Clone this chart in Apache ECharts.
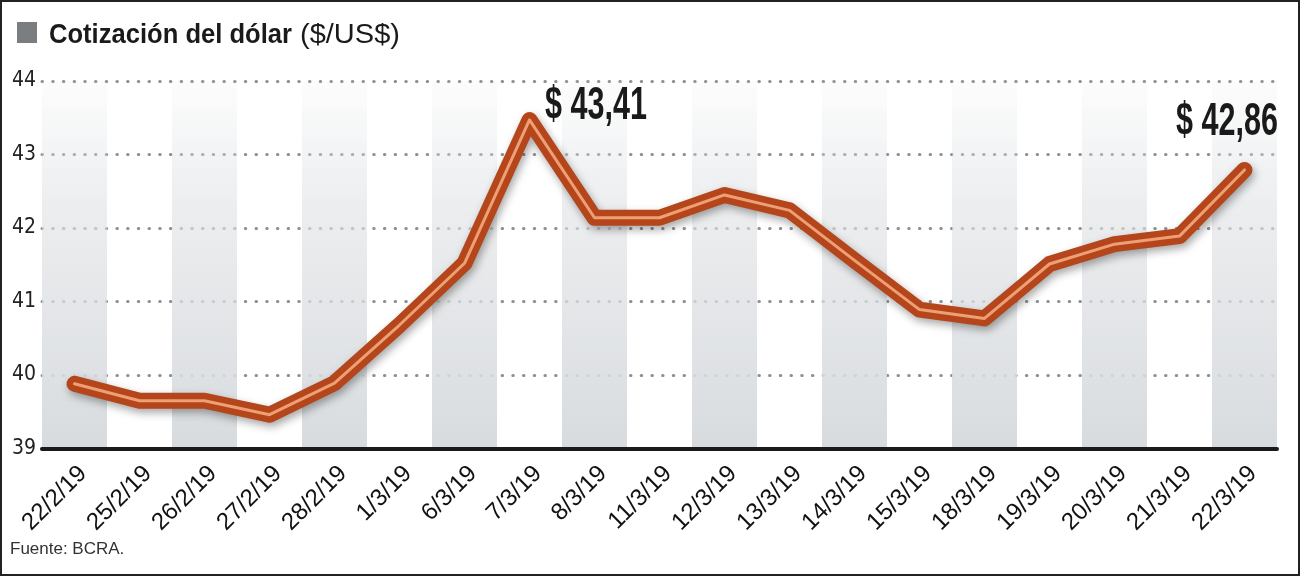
<!DOCTYPE html>
<html><head><meta charset="utf-8">
<script src="https://cdn.jsdelivr.net/npm/echarts@6/dist/echarts.min.js"></script>
<style>html,body{margin:0;padding:0;background:#fff}#c{width:1300px;height:576px}</style>
</head><body><div id="c"></div>
<script>
const categories = ['22/2/19','25/2/19','26/2/19','27/2/19','28/2/19','1/3/19','6/3/19','7/3/19','8/3/19','11/3/19','12/3/19','13/3/19','14/3/19','15/3/19','18/3/19','19/3/19','20/3/19','21/3/19','22/3/19'];
const values = [39.88,39.65,39.65,39.46,39.89,40.68,41.52,43.47,42.14,42.14,42.45,42.24,41.56,40.89,40.77,41.51,41.78,41.89,42.79];
const yTicks = [39,40,41,42,43,44];
const annotationIdx = [7, 18];
const annotationText = ['$ 43,41', '$ 42,86'];
const titleMain = 'Cotización del dólar';
const titleUnit = '($/US$)';
const sourceText = 'Fuente: BCRA.';

const mctx = document.createElement('canvas').getContext('2d');
function textW(font, t){ mctx.font = font; return mctx.measureText(t).width; }

const chart = echarts.init(document.getElementById('c'), null, {renderer:'canvas'});
const stripe = new echarts.graphic.LinearGradient(0,0,0,1,[
  {offset:0,color:'rgba(222,225,228,0.08)'},
  {offset:0.35,color:'rgba(222,225,228,0.6)'},
  {offset:1,color:'#d8dbde'}]);
chart.setOption({
  animation:false,
  grid:{left:42,right:23,top:81,bottom:127.5,containLabel:false},
  xAxis:{type:'category',data:categories,boundaryGap:true,
    axisLine:{lineStyle:{color:'#1a1a1a',width:4}},
    axisTick:{show:false},
    axisLabel:{rotate:45,interval:0,fontSize:24,fontFamily:'Liberation Sans',color:'#111',margin:13,verticalAlign:'top'},
    splitLine:{show:false},
    splitArea:{show:true,areaStyle:{color:[stripe,'rgba(255,255,255,0)']}}},
  yAxis:{type:'value',min:yTicks[0],max:yTicks[yTicks.length-1],interval:1,
    axisLine:{show:false},axisTick:{show:false},
    axisLabel:{fontFamily:'"DejaVu Sans Condensed", "Liberation Sans", sans-serif',fontSize:21,color:'#222',margin:6},
    splitLine:{lineStyle:{color:'#8c9094',width:3,type:[0.5,10.2],cap:'round'}}},
  series:[
    {type:'line',data:values,symbol:'none',silent:true,z:3,
     lineStyle:{width:16,color:'#b5461b',join:'round',cap:'round',
       shadowColor:'rgba(0,0,0,0.35)',shadowBlur:8,shadowOffsetX:2,shadowOffsetY:4}},
    {type:'line',data:values,symbol:'none',silent:true,z:4,
     lineStyle:{width:3,color:'#ee9f74',join:'round',cap:'round'}}
  ]
});

const titleFontB = 'bold 28px "Liberation Sans"';
const titleFontR = '28px "Liberation Sans"';
const annFont = 'bold 47px "Liberation Sans"';
const graphics = [
  {type:'rect',shape:{x:1,y:1,width:1298,height:574},style:{fill:'none',stroke:'#222',lineWidth:2},silent:true,z:10},
  {type:'rect',shape:{x:17,y:22,width:20,height:21},style:{fill:'#7b7e81'},silent:true},
  {type:'text',x:49,y:35,scaleX:243/textW(titleFontB,titleMain),silent:true,
    style:{text:titleMain,font:titleFontB,fill:'#1a1a1a',verticalAlign:'middle'}},
  {type:'text',x:300,y:35,scaleX:100/textW(titleFontR,titleUnit),silent:true,
    style:{text:titleUnit,font:titleFontR,fill:'#1a1a1a',verticalAlign:'middle'}},
  {type:'text',x:10,y:549.5,silent:true,style:{text:sourceText,font:'17px "Liberation Sans"',fill:'#333',verticalAlign:'middle'}}
];
const offsets = [[15.5,-14],[-68.5,-48]];
annotationIdx.forEach((idx,i)=>{
  const p = chart.convertToPixel({seriesIndex:0},[idx,values[idx]]);
  graphics.push({type:'text',x:p[0]+offsets[i][0],y:p[1]+offsets[i][1],
    scaleX:102/textW(annFont,annotationText[i]),silent:true,z:10,
    style:{text:annotationText[i],font:annFont,fill:'#1a1a1a',align:'left',verticalAlign:'middle'}});
});
chart.setOption({graphic:graphics});
</script></body></html>
